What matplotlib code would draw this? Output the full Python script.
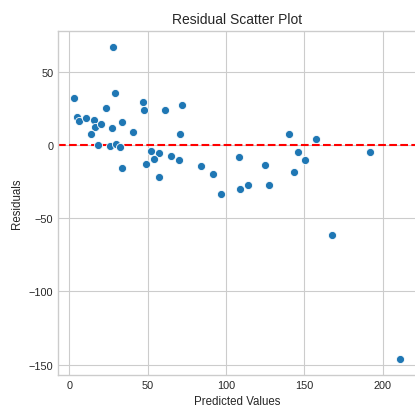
import matplotlib
matplotlib.use("Agg")
import matplotlib.pyplot as plt

# predicted values vs residuals
predicted = [27.7, 3.3, 29.1, 47.2, 47.9, 60.9, 72.0, 23.6, 5.2, 6.5,
             10.8, 15.5, 16.5, 20.4, 27.0, 33.4, 13.6, 40.8, 70.5, 18.2,
             25.9, 29.6, 32.3, 52.2, 57.1, 53.9, 65.2, 70.1, 49.0, 33.8,
             57.3, 84.0, 91.8, 97.0, 108.7, 109.3, 114.0, 140.5, 157.8, 145.8,
             150.3, 143.2, 124.9, 127.7, 191.7, 168.0, 211.4]
residuals = [67.0, 32.0, 35.1, 29.5, 23.8, 23.8, 27.0, 25.4, 19.3, 16.3,
             18.1, 17.2, 12.5, 14.1, 11.8, 15.9, 7.7, 9.1, 7.3, 0.2,
             -1.1, 0.5, -1.8, -4.1, -5.9, -9.8, -7.9, -10.4, -13.2, -16.1,
             -21.8, -14.5, -20.2, -33.8, -8.4, -29.9, -27.7, 7.3, 3.9, -4.8,
             -10.4, -18.4, -13.8, -27.7, -4.8, -61.2, -146.3]

plt.style.use("seaborn-v0_8-whitegrid")
plt.rcParams["font.family"] = ["Liberation Sans", "DejaVu Sans"]

fig = plt.figure(figsize=(4.15, 4.10), dpi=100)
ax = fig.add_axes([0.14, 0.083, 0.864, 0.839])

ax.scatter(predicted, residuals, s=34, color="#1f77b4",
           edgecolor="white", linewidth=0.6, zorder=3)
ax.axhline(0, color="red", linestyle="--", linewidth=1.5, zorder=2)

ax.set_title("Residual Scatter Plot", fontsize=10, color="#262626")
ax.set_xlabel("Predicted Values", fontsize=8.3, color="#262626")
ax.set_ylabel("Residuals", fontsize=8.3, color="#262626")
ax.tick_params(labelsize=7.8, colors="#262626")
for sp in ax.spines.values():
    sp.set_visible(True)
    sp.set_color("#cccccc")

fig.savefig("out.png", dpi=100)
plt.close(fig)
